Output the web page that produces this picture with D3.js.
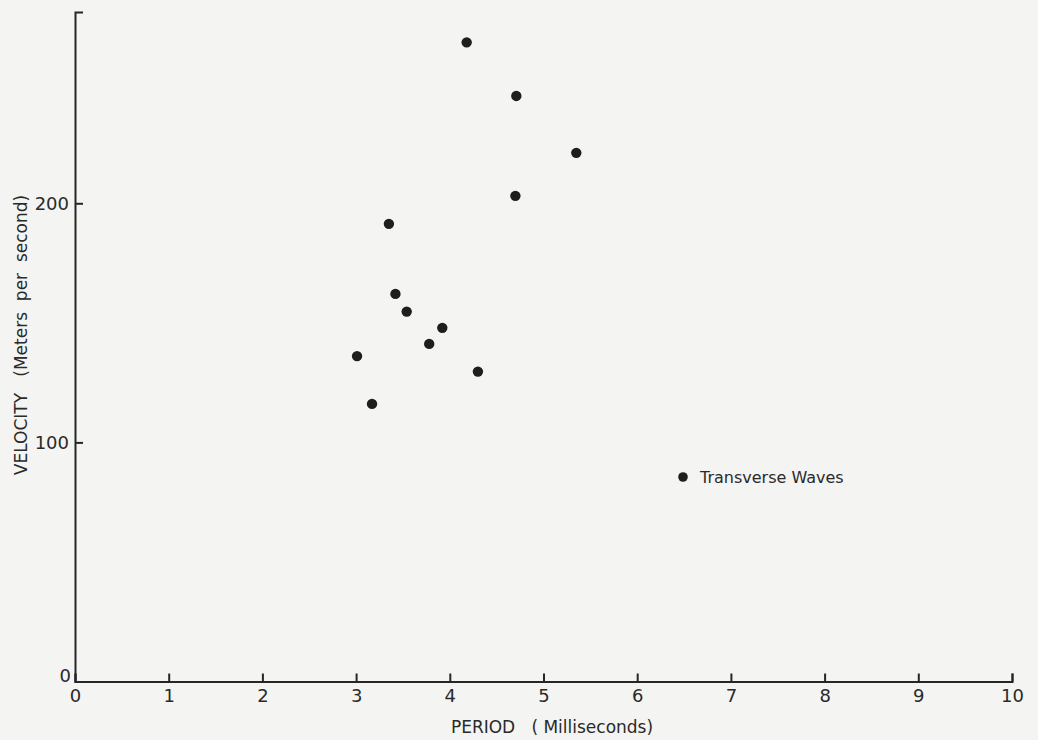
<!DOCTYPE html>
<html>
<head>
<meta charset="utf-8">
<script src="https://cdn.jsdelivr.net/npm/d3@7"></script>
<style>
  html, body { margin: 0; padding: 0; background: #f4f4f2; }
  svg { display: block; }
  text { font-family: "DejaVu Sans", sans-serif; fill: #2a2a2a; }
</style>
</head>
<body>
<svg id="chart" width="1038" height="740"></svg>
<script>
// Period (ms) and velocity (m/s) of the transverse wave measurements
const period   = [4.18, 4.71, 5.35, 4.70, 3.35, 3.42, 3.54, 3.92, 3.78, 3.01, 4.30, 3.17];
const velocity = [267.3, 244.9, 221.1, 203.1, 191.4, 162.1, 154.7, 147.9, 141.2, 136.1, 129.6, 116.1];

const xTicks = [0, 1, 2, 3, 4, 5, 6, 7, 8, 9, 10];
const yTicks = [0, 100, 200];
const seriesName = "Transverse Waves";

const svg = d3.select("#chart");
const ink = "#262626";

const x = d3.scaleLinear().domain([0, 10]).range([75, 1012]);
const y = d3.scaleLinear().domain([0, 280]).range([681.5, 12]);

// X axis: ticks point up into the plot
const gx = svg.append("g")
  .attr("transform", `translate(0,${y(0)})`)
  .call(d3.axisBottom(x).tickValues(xTicks).tickFormat(d3.format("d"))
    .tickSizeInner(-8).tickSizeOuter(-8).tickPadding(8));

// Y axis: ticks point right into the plot
const gy = svg.append("g")
  .attr("transform", `translate(${x(0)},0)`)
  .call(d3.axisLeft(y).tickValues(yTicks).tickFormat(d3.format("d"))
    .tickSizeInner(-8).tickSizeOuter(-8).tickPadding(6));

[gx, gy].forEach(g => {
  g.select(".domain").attr("stroke", ink).attr("stroke-width", 2);
  g.selectAll(".tick line").attr("stroke", ink).attr("stroke-width", 2);
  g.selectAll(".tick text").style("font-size", "18px").attr("fill", "#2a2a2a");
});
// the y-axis zero sits a little above the corner
gy.selectAll(".tick text").filter(d => d === 0).attr("x", -4).attr("y", -6);

// Axis titles
svg.append("text")
  .attr("x", 552).attr("y", 733)
  .attr("text-anchor", "middle")
  .style("font-size", "17px")
  .attr("xml:space", "preserve")
  .text("PERIOD   ( Milliseconds)");

svg.append("text")
  .attr("transform", `translate(27,335) rotate(-90)`)
  .attr("text-anchor", "middle")
  .style("font-size", "17px")
  .attr("xml:space", "preserve")
  .text("VELOCITY   (Meters  per  second)");

// Data points
const pts = period.map((p, i) => ({ p, v: velocity[i] }));
svg.append("g").selectAll("circle").data(pts).join("circle")
  .attr("cx", d => x(d.p))
  .attr("cy", d => y(d.v))
  .attr("r", 5.2)
  .attr("fill", "#1e1e1e");

// Legend
const lg = svg.append("g").attr("transform", "translate(683,477)");
lg.append("circle").attr("r", 4.8).attr("fill", "#1e1e1e");
lg.append("text").attr("x", 17).attr("dy", "0.36em")
  .style("font-size", "16px").text(seriesName);
</script>
</body>
</html>
